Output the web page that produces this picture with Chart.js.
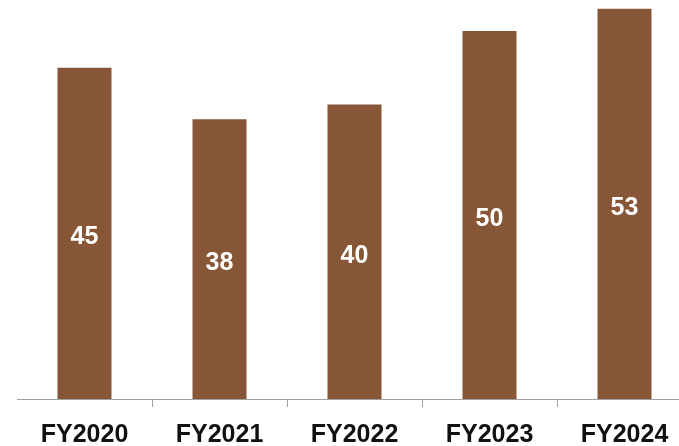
<!DOCTYPE html>
<html>
<head>
<meta charset="utf-8">
<script src="https://cdn.jsdelivr.net/npm/chart.js@4/dist/chart.umd.min.js"></script>
<style>
  html, body { margin: 0; padding: 0; background: #fff; overflow: hidden; }
  #wrap { width: 692px; height: 446px; }
</style>
</head>
<body>
<div id="wrap"><canvas id="mycanvas" width="692" height="446"></canvas></div>
<script>
var years = ["FY2020", "FY2021", "FY2022", "FY2023", "FY2024"];
var values = [45, 38, 40, 50, 53];

var barColor = "rgb(135, 86, 54)";

// writes each value in the middle of its bar
var centerLabels = {
  id: "centerLabels",
  afterDatasetsDraw: function(chart) {
    var ctx = chart.ctx;
    var meta = chart.getDatasetMeta(0);
    ctx.save();
    ctx.font = "bold 25px 'Liberation Sans', Arial, sans-serif";
    ctx.fillStyle = "#fff";
    ctx.textAlign = "center";
    ctx.textBaseline = "middle";
    meta.data.forEach(function(bar, i) {
      var p = bar.getCenterPoint();
      ctx.fillText(String(chart.data.datasets[0].data[i]), p.x, p.y + 4);
    });
    ctx.restore();
  }
};

var ctx = document.getElementById("mycanvas");
var chart = new Chart(ctx, {
  type: "bar",
  data: {
    labels: years,
    datasets: [{
      data: values,
      backgroundColor: barColor,
      borderWidth: 0,
      barPercentage: 0.4,
      categoryPercentage: 1.0
    }]
  },
  options: {
    responsive: false,
    animation: false,
    layout: { padding: { left: 17, right: 0, top: 0, bottom: 0 } },
    plugins: {
      legend: { display: false },
      tooltip: { enabled: false }
    },
    scales: {
      x: {
        offset: true,
        afterFit: function(scale) { scale.height = 47; },
        grid: {
          offset: true,
          drawOnChartArea: false,
          drawTicks: true,
          tickLength: 8,
          color: function(c) { return c.index === 0 ? "rgba(0,0,0,0)" : "#a0a0a0"; }
        },
        border: { display: true, color: "#a0a0a0", width: 1 },
        ticks: {
          color: "#111",
          padding: 13,
          font: { family: "'Liberation Sans', Arial, sans-serif", size: 25, weight: "bold" }
        }
      },
      y: {
        display: false,
        min: 0,
        max: 54.2
      }
    }
  },
  plugins: [centerLabels]
});
</script>
</body>
</html>
